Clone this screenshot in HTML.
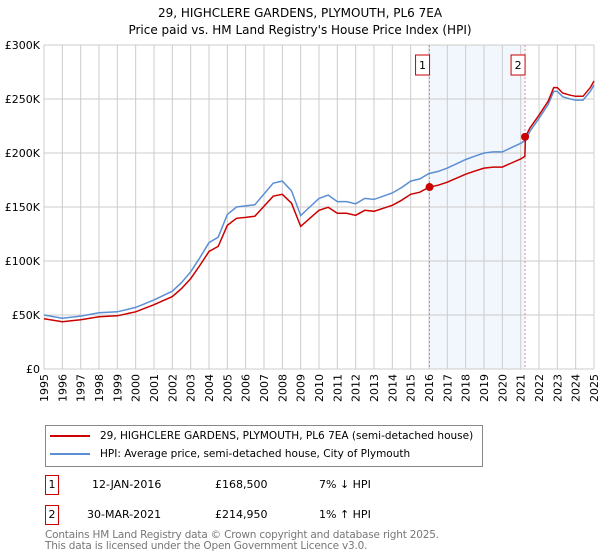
<!DOCTYPE html>
<html><head><meta charset="utf-8"><style>
body{margin:0;width:600px;height:560px;background:#fff;font-family:"DejaVu Sans","Liberation Sans",sans-serif;overflow:hidden;position:relative}
.t{position:absolute;font-size:11px;color:#000;white-space:nowrap}
</style></head><body>
<svg id="c" width="600" height="420" style="position:absolute;left:0;top:0" font-family="DejaVu Sans, Liberation Sans, sans-serif"></svg>
<div style="position:absolute;left:45px;top:425px;width:438px;height:42px;border:1px solid #888;box-sizing:border-box">
 <div style="position:absolute;left:4px;top:4px;font-size:10.5px;white-space:nowrap"><span style="display:inline-block;width:40px;height:2px;background:#cc0000;vertical-align:middle;margin-right:10px"></span>29, HIGHCLERE GARDENS, PLYMOUTH, PL6 7EA (semi-detached house)</div>
 <div style="position:absolute;left:4px;top:22px;font-size:10.5px;white-space:nowrap"><span style="display:inline-block;width:40px;height:2px;background:#5b8fd4;vertical-align:middle;margin-right:10px"></span>HPI: Average price, semi-detached house, City of Plymouth</div>
</div>
<div style="position:absolute;left:45px;top:475px;width:14px;height:20px;border:1px solid #cc0000;box-sizing:border-box;font-size:11px;text-align:center;line-height:18px">1</div>
<div class="t" style="left:92px;top:478px">12-JAN-2016</div>
<div class="t" style="left:215px;top:478px">£168,500</div>
<div class="t" style="left:319px;top:478px">7% ↓ HPI</div>
<div style="position:absolute;left:45px;top:505px;width:14px;height:20px;border:1px solid #cc0000;box-sizing:border-box;font-size:11px;text-align:center;line-height:18px">2</div>
<div class="t" style="left:87px;top:508px">30-MAR-2021</div>
<div class="t" style="left:215px;top:508px">£214,950</div>
<div class="t" style="left:319px;top:508px">1% ↑ HPI</div>
<div class="t" style="left:45px;top:530px;color:#777;font-size:10.5px;line-height:11px;letter-spacing:-0.2px">Contains HM Land Registry data © Crown copyright and database right 2025.<br>This data is licensed under the Open Government Licence v3.0.</div>
<script>
const hpiYears=[1995,1996,1997,1998,1999,2000,2001,2002,2002.5,2003,2003.5,2004,2004.5,2005,2005.5,2006,2006.5,2007,2007.5,2008,2008.5,2009,2009.5,2010,2010.5,2011,2011.5,2012,2012.5,2013,2013.5,2014,2014.5,2015,2015.5,2016,2016.5,2017,2017.5,2018,2018.5,2019,2019.5,2020,2020.5,2021,2021.3,2021.5,2022,2022.5,2022.8,2023,2023.3,2023.7,2024,2024.4,2024.8,2025];
const hpiValues=[50,47,49,52,53,57,64,72,80,90,103,117,122,143,150,151,152,162,172,174,165,142,150,158,161,155,155,153,158,157,160,163,168,174,176,181,183,186,190,194,197,200,201,201,205,209,212,220,232,245,257,257,252,250,249,249,257,263];
const propYears=[1995,1996,1997,1998,1999,2000,2001,2002,2002.5,2003,2003.5,2004,2004.5,2005,2005.5,2006,2006.5,2007,2007.5,2008,2008.5,2009,2009.5,2010,2010.5,2011,2011.5,2012,2012.5,2013,2013.5,2014,2014.5,2015,2015.5,2016,2016.5,2017,2017.5,2018,2018.5,2019,2019.5,2020,2020.5,2021,2021.23,2021.26,2021.5,2022,2022.5,2022.8,2023,2023.3,2023.7,2024,2024.4,2024.8,2025];
const propValues=[46.5,43.7,45.6,48.4,49.3,53,59.5,67,74.4,83.7,95.8,108.8,113.5,133,139.5,140.4,141.4,150.7,160,161.8,153.5,132,139.5,146.9,149.7,144.2,144.2,142.3,146.9,146,148.8,151.6,156.2,161.8,163.7,168.3,170.2,173,176.7,180.4,183.2,186,186.9,186.9,190.7,194.4,197,215,223,235,248,260.6,260.6,255.5,253.5,252.5,252.5,260.6,266.7];
const saleYears=[2016.03,2021.24];
const saleValues=[168.5,214.95];
const saleLabels=["1","2"];
const yTicks=[0,50,100,150,200,250,300];
const yTickLabels=["£0","£50K","£100K","£150K","£200K","£250K","£300K"];
const xTicks=[1995,1996,1997,1998,1999,2000,2001,2002,2003,2004,2005,2006,2007,2008,2009,2010,2011,2012,2013,2014,2015,2016,2017,2018,2019,2020,2021,2022,2023,2024,2025];

const NS="http://www.w3.org/2000/svg",svg=document.getElementById('c');
const L=44,R=594,T=45,B=369;
const x=v=>L+(v-1995)/(2025-1995)*(R-L);
const y=v=>B-v/300*(B-T);
function mk(tag,a,parent){const e=document.createElementNS(NS,tag);for(const k in a)e.setAttribute(k,a[k]);(parent||svg).appendChild(e);return e;}
let e;
e=mk('text',{x:300,y:17,'text-anchor':'middle','font-size':12});e.textContent="29, HIGHCLERE GARDENS, PLYMOUTH, PL6 7EA";


e=mk('text',{x:300,y:34,'text-anchor':'middle','font-size':12});e.textContent="Price paid vs. HM Land Registry's House Price Index (HPI)";


e=mk('rect',{x:x(saleYears[0]),y:T,width:x(saleYears[1])-x(saleYears[0]),height:B-T,fill:'#f2f6fd'});


xTicks.forEach(t=>{e=mk('line',{x1:x(t),x2:x(t),y1:T,y2:B,stroke:'#ccc','stroke-width':1});


e=mk('text',{transform:`translate(${x(t)+4},${B+5}) rotate(-90)`,'text-anchor':'end','font-size':11});e.textContent=t;

});
yTicks.forEach((t,i)=>{e=mk('line',{x1:L,x2:R,y1:y(t),y2:y(t),stroke:'#ccc','stroke-width':1});


e=mk('text',{x:L-4,y:y(t)+4,'text-anchor':'end','font-size':11});e.textContent=yTickLabels[i];

});
saleYears.forEach((s,i)=>{e=mk('line',{x1:x(s),x2:x(s),y1:T,y2:B,stroke:'#e87070','stroke-width':0.8,'stroke-dasharray':'2,2'});


e=mk('rect',{x:x(s)-14,y:55,width:14,height:20,fill:'#fff',stroke:'#cc0000'});


e=mk('text',{x:x(s)-7,y:69,'text-anchor':'middle','font-size':11});e.textContent=saleLabels[i];

});
const pts=(xs,vs)=>xs.map((t,i)=>x(t).toFixed(1)+','+y(vs[i]).toFixed(1)).join(' ');
e=mk('polyline',{points:pts(hpiYears,hpiValues),fill:'none',stroke:'#5b8fd4','stroke-width':1.5});


e=mk('polyline',{points:pts(propYears,propValues),fill:'none',stroke:'#cc0000','stroke-width':1.5});


saleYears.forEach((s,i)=>{e=mk('circle',{cx:x(s),cy:y(saleValues[i]),r:4,fill:'#cc0000'});

});
</script>
</body></html>
